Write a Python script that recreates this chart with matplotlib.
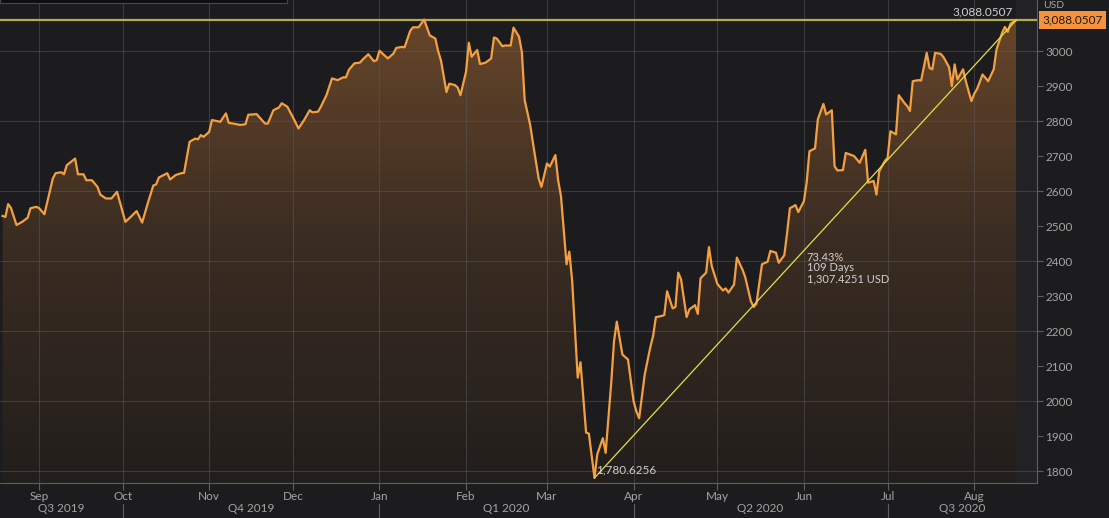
import numpy as np
import pandas as pd
import matplotlib
matplotlib.use('Agg')
import matplotlib.pyplot as plt
import matplotlib.dates as mdates
import matplotlib.transforms as mtransforms
from matplotlib.colors import LinearSegmentedColormap
from matplotlib.patches import Rectangle

plt.rcParams['font.family'] = ['Lato', 'DejaVu Sans']

# index level
dates = [
    '2019-08-19', '2019-08-20', '2019-08-21', '2019-08-22', '2019-08-24', '2019-08-26', '2019-08-28', '2019-08-29', '2019-08-31',
    '2019-09-01', '2019-09-03', '2019-09-06', '2019-09-07', '2019-09-09', '2019-09-10', '2019-09-11', '2019-09-14', '2019-09-15',
    '2019-09-17', '2019-09-18', '2019-09-20', '2019-09-22', '2019-09-23', '2019-09-25', '2019-09-27', '2019-09-29',
    '2019-10-02', '2019-10-04', '2019-10-06', '2019-10-08', '2019-10-10', '2019-10-12', '2019-10-13', '2019-10-14', '2019-10-17',
    '2019-10-18', '2019-10-20', '2019-10-22', '2019-10-23', '2019-10-25', '2019-10-27', '2019-10-28', '2019-10-29', '2019-10-30',
    '2019-11-01', '2019-11-02', '2019-11-05', '2019-11-07', '2019-11-08', '2019-11-11', '2019-11-12', '2019-11-14', '2019-11-15',
    '2019-11-18', '2019-11-21', '2019-11-22', '2019-11-24', '2019-11-26', '2019-11-27', '2019-11-29',
    '2019-12-01', '2019-12-03', '2019-12-05', '2019-12-07', '2019-12-08', '2019-12-10', '2019-12-11', '2019-12-13', '2019-12-15',
    '2019-12-17', '2019-12-19', '2019-12-20', '2019-12-21', '2019-12-23', '2019-12-25', '2019-12-26', '2019-12-28', '2019-12-30',
    '2019-12-31',
    '2020-01-01', '2020-01-04', '2020-01-06', '2020-01-07', '2020-01-09', '2020-01-10', '2020-01-12', '2020-01-13', '2020-01-15',
    '2020-01-16', '2020-01-17', '2020-01-19', '2020-01-21', '2020-01-22', '2020-01-23', '2020-01-25', '2020-01-26', '2020-01-28',
    '2020-01-29', '2020-01-30',
    '2020-02-01', '2020-02-02', '2020-02-03', '2020-02-05', '2020-02-06', '2020-02-08', '2020-02-10', '2020-02-11', '2020-02-12',
    '2020-02-14', '2020-02-15', '2020-02-17', '2020-02-18', '2020-02-20', '2020-02-21', '2020-02-22', '2020-02-24', '2020-02-25',
    '2020-02-27', '2020-02-28',
    '2020-03-01', '2020-03-02', '2020-03-04', '2020-03-05', '2020-03-06', '2020-03-08', '2020-03-09', '2020-03-10', '2020-03-12',
    '2020-03-13', '2020-03-15', '2020-03-16', '2020-03-18', '2020-03-19', '2020-03-21', '2020-03-22', '2020-03-24', '2020-03-25',
    '2020-03-26', '2020-03-28', '2020-03-30',
    '2020-04-01', '2020-04-02', '2020-04-03', '2020-04-05', '2020-04-07', '2020-04-08', '2020-04-09', '2020-04-11', '2020-04-12',
    '2020-04-13', '2020-04-15', '2020-04-16', '2020-04-17', '2020-04-18', '2020-04-20', '2020-04-21', '2020-04-23', '2020-04-24',
    '2020-04-25', '2020-04-27', '2020-04-28', '2020-04-29',
    '2020-05-01', '2020-05-03', '2020-05-04', '2020-05-05', '2020-05-07', '2020-05-08', '2020-05-10', '2020-05-11', '2020-05-13',
    '2020-05-14', '2020-05-15', '2020-05-17', '2020-05-19', '2020-05-20', '2020-05-22', '2020-05-23', '2020-05-25', '2020-05-26',
    '2020-05-27', '2020-05-29', '2020-05-30',
    '2020-06-01', '2020-06-02', '2020-06-03', '2020-06-05', '2020-06-06', '2020-06-08', '2020-06-09', '2020-06-11', '2020-06-12',
    '2020-06-13', '2020-06-15', '2020-06-16', '2020-06-18', '2020-06-19', '2020-06-21', '2020-06-23', '2020-06-24', '2020-06-26',
    '2020-06-27', '2020-06-28', '2020-06-30',
    '2020-07-01', '2020-07-02', '2020-07-04', '2020-07-05', '2020-07-07', '2020-07-08', '2020-07-09', '2020-07-10', '2020-07-12',
    '2020-07-13', '2020-07-15', '2020-07-16', '2020-07-17', '2020-07-18', '2020-07-20', '2020-07-21', '2020-07-23', '2020-07-24',
    '2020-07-25', '2020-07-26', '2020-07-28', '2020-07-29', '2020-07-31',
    '2020-08-01', '2020-08-02', '2020-08-04', '2020-08-05', '2020-08-06', '2020-08-08', '2020-08-09', '2020-08-11', '2020-08-12',
    '2020-08-13', '2020-08-14', '2020-08-16',
]
values = [
    2529, 2526, 2563, 2552, 2503, 2512, 2524, 2551, 2555,
    2552, 2534, 2636, 2651, 2654, 2648, 2674, 2693, 2648,
    2648, 2631, 2631, 2612, 2590, 2579, 2579, 2598,
    2512, 2527, 2543, 2510, 2565, 2616, 2619, 2639, 2651,
    2633, 2646, 2651, 2652, 2741, 2750, 2748, 2760, 2755,
    2769, 2803, 2798, 2822, 2795, 2791, 2789, 2791, 2818,
    2820, 2793, 2793, 2831, 2839, 2851, 2841,
    2811, 2779, 2803, 2831, 2825, 2827, 2841, 2874, 2922,
    2917, 2925, 2925, 2946, 2965, 2967, 2976, 2991, 2971,
    2974,
    3001, 2979, 2993, 3009, 3012, 3011, 3058, 3068, 3068,
    3079, 3090, 3045, 3036, 3000, 2974, 2883, 2907, 2903,
    2896, 2874,
    2941, 3024, 2984, 3003, 2963, 2967, 2979, 3039, 3036,
    3014, 3016, 3016, 3067, 3041, 2997, 2860, 2788, 2736,
    2636, 2612,
    2679, 2670, 2703, 2630, 2586, 2391, 2427, 2345, 2067,
    2111, 1910, 1907, 1780.6256, 1848, 1894, 1852, 2052, 2171,
    2227, 2133, 2119,
    2000, 1971, 1951, 2076, 2154, 2186, 2240, 2243, 2246,
    2314, 2265, 2269, 2367, 2348, 2240, 2262, 2274, 2249,
    2351, 2367, 2440, 2386,
    2335, 2316, 2322, 2310, 2333, 2410, 2376, 2354, 2286,
    2269, 2278, 2391, 2398, 2429, 2424, 2395, 2417, 2481,
    2551, 2560, 2540,
    2571, 2624, 2714, 2722, 2805, 2849, 2819, 2831, 2671,
    2659, 2660, 2709, 2703, 2700, 2681, 2718, 2624, 2629,
    2590, 2657, 2686,
    2695, 2771, 2762, 2874, 2852, 2843, 2829, 2914, 2917,
    2916, 2995, 2952, 2948, 2995, 2992, 2983, 2954, 2900,
    2962, 2919, 2948, 2914, 2857,
    2878, 2891, 2933, 2924, 2914, 2948, 3005, 3052, 3069,
    3055, 3078, 3088.0507,
]

month_starts = ['2019-09-01', '2019-10-01', '2019-11-01', '2019-12-01', '2020-01-01', '2020-02-01',
                '2020-03-01', '2020-04-01', '2020-05-01', '2020-06-01', '2020-07-01', '2020-08-01']
quarter_starts = ['2019-07-01', '2019-10-01', '2020-01-01', '2020-04-01', '2020-07-01', '2020-10-01']
quarter_names = ['Q3 2019', 'Q4 2019', 'Q1 2020', 'Q2 2020', 'Q3 2020']
y_ticks = list(range(1800, 3001, 100))
grid_levels = list(range(1800, 3001, 200))
days_text = '109 Days'
currency = 'USD'

x = pd.to_datetime(dates)
y = np.array(values)
months = pd.to_datetime(month_starts)
quarters = pd.to_datetime(quarter_starts)

x_lo = pd.Timestamp('2019-08-18 02:00')
x_hi = pd.Timestamp('2020-08-23 12:00')
y_lo, y_hi = 1766, 3146

bg = '#1c1c1e'
txt = '#a4a4a4'
fig = plt.figure(figsize=(11.09, 5.18), dpi=100, facecolor=bg)
ax = fig.add_axes([0, 35 / 518, 1037 / 1109, 483 / 518])
ax.set_facecolor(bg)

# gradient area under the line
xn0, xn1 = mdates.date2num(x_lo), mdates.date2num(x_hi)
grad = np.linspace(1, 0, 256).reshape(-1, 1)
cmap = LinearSegmentedColormap.from_list('fill', ['#221e1c', '#3a2c22', '#6a482a'])
im = ax.imshow(grad, cmap=cmap, aspect='auto', extent=[xn0, xn1, y_lo, y_hi],
               origin='upper', zorder=1, interpolation='bilinear')
poly = ax.fill_between(x, y, y_lo, facecolor='none', edgecolor='none')
im.set_clip_path(poly.get_paths()[0], transform=ax.transData)

ax.axvspan(x[-1], x_hi, color='#222224', zorder=0.5, lw=0)

for lvl in grid_levels:
    ax.axhline(lvl, color='#5a5a5a', alpha=0.5, lw=0.8, zorder=2)
for m in months:
    ax.axvline(m, color='#5a5a5a', alpha=0.5, lw=0.8, zorder=2)

ax.plot(x, y, color='#f4a042', lw=1.6, zorder=4, solid_joinstyle='round')

# current level line
ax.axhline(y[-1], color='#b3ad52', lw=1.6, zorder=3)

# trend line from the low to the last value
i_low = int(np.argmin(y))
low_d, low_v = x[i_low], y[i_low]
end_d, end_v = x[-1], y[-1]
ax.plot([low_d, end_d], [low_v, end_v], color='#e0e04c', lw=0.9, zorder=5)

ax.annotate(f'{low_v:,.4f}', xy=(low_d, low_v), xytext=(1, 2), textcoords='offset points',
            ha='left', va='bottom', fontsize=8.5, color='#d0d0d0', zorder=6)
ax.annotate(f'{end_v:,.4f}', xy=(end_d, end_v), xytext=(-2, 2), textcoords='offset points',
            ha='right', va='bottom', fontsize=8.5, color='#d0d0d0', zorder=6)
mid_d = low_d + (end_d - low_d) / 2
mid_v = (low_v + end_v) / 2
pct = (end_v - low_v) / low_v * 100
ax.annotate(f'{pct:.2f}%\n{days_text}\n{end_v - low_v:,.4f} {currency}', xy=(mid_d, mid_v),
            xytext=(1, -2), textcoords='offset points', ha='left', va='top',
            fontsize=8, color='#d0d0d0', linespacing=0.95, zorder=6)

ax.set_xlim(x_lo, x_hi)
ax.set_ylim(y_lo, y_hi)

for s in ['top', 'left']:
    ax.spines[s].set_visible(False)
for s in ['right', 'bottom']:
    ax.spines[s].set_color('#5e5e5e')
    ax.spines[s].set_linewidth(0.8)

ax.yaxis.tick_right()
ax.set_yticks(y_ticks)
ax.set_yticklabels([str(v) for v in y_ticks])
ax.tick_params(axis='y', length=4, width=0.8, color='#5e5e5e', pad=2, labelsize=8.5, labelcolor=txt)

ax.set_xticks(months)
ax.set_xticklabels([m.strftime('%b') for m in months])
ax.tick_params(axis='x', length=5, width=0.8, color='#5e5e5e', pad=1, labelsize=8.5, labelcolor=txt)

# quarter row
bt = mtransforms.blended_transform_factory(ax.transData, ax.transAxes)
px = 1 / 483
for q in quarters:
    if x_lo < q < x_hi:
        ax.plot([q, q], [-21 * px, -35 * px], transform=bt, clip_on=False, color='#5e5e5e', lw=0.8)
for i, name in enumerate(quarter_names):
    a = max(quarters[i], x_lo)
    b = min(quarters[i + 1], x_hi)
    ax.text(a + (b - a) / 2, -26 * px, name, transform=bt, ha='center', va='center',
            fontsize=8.5, color=txt)

# last value tag on the axis
rt = mtransforms.blended_transform_factory(ax.transAxes, ax.transData)
ax.text(1.0 + 5 / 1037, end_v, f'{end_v:,.4f}', transform=rt, ha='left', va='center',
        fontsize=8.5, color='#1e1a16', clip_on=False, zorder=7,
        bbox=dict(boxstyle='square,pad=0.28', fc='#f5923e', ec='none'))

fig.text(1043 / 1109, 0.999, currency, ha='left', va='top', fontsize=7.5, color=txt)
fig.add_artist(Rectangle((0, 1 - 3 / 518), 287 / 1109, 12 / 518, transform=fig.transFigure,
                         fc='#0e0e0e', ec='#4a4a4a', lw=0.8))

fig.savefig('out.png', dpi=100, facecolor=bg)
